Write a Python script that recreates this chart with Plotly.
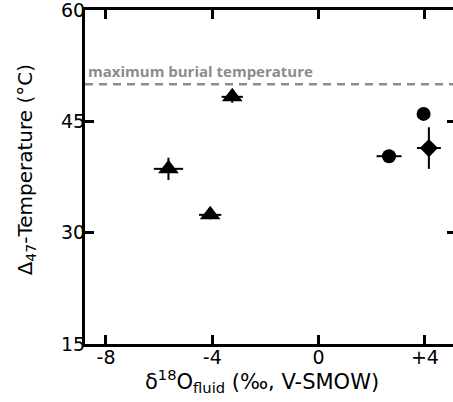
import plotly.graph_objects as go

# Data
tri_x = [-5.65, -4.08, -3.25]
tri_y = [38.6, 32.4, 48.3]
tri_ex = [0.55, 0.42, 0.4]
tri_ey = [1.5, 0.6, 0.8]

circ_x = [2.65, 3.95]
circ_y = [40.3, 46.0]
circ_ex = [0.47, 0.0]
circ_ey = [0.0, 0.0]

dia_x = [4.15]
dia_y = [41.4]
dia_ex = [0.45]
dia_ey = [2.8]

max_burial_temp = 50
x_ticks = [-8, -4, 0, 4]
x_tick_labels = ["-8", "-4", "0", "+4"]
y_ticks = [15, 30, 45, 60]

FONT = "DejaVu Sans, Liberation Sans, sans-serif"
LABEL_FONT = "Open Sans, DejaVu Sans, sans-serif"

def eb(vals):
    return dict(type="data", array=vals, visible=True, color="black", thickness=2, width=0)

fig = go.Figure()
fig.add_trace(go.Scatter(x=tri_x, y=tri_y, mode="markers",
                         marker=dict(symbol="triangle-up", size=18, color="black"),
                         error_x=eb(tri_ex), error_y=eb(tri_ey)))
fig.add_trace(go.Scatter(x=circ_x, y=circ_y, mode="markers",
                         marker=dict(symbol="circle", size=14, color="black"),
                         error_x=eb(circ_ex), error_y=eb(circ_ey)))
fig.add_trace(go.Scatter(x=dia_x, y=dia_y, mode="markers",
                         marker=dict(symbol="diamond", size=14, color="black"),
                         error_x=eb(dia_ex), error_y=eb(dia_ey)))

fig.add_shape(type="line", xref="paper", x0=0, x1=1, yref="y",
              y0=max_burial_temp, y1=max_burial_temp,
              line=dict(color="#8c8c8c", width=2.5, dash="8px,6px"), layer="below")
fig.add_annotation(xref="paper", x=0, yref="y", y=max_burial_temp,
                   xanchor="left", yanchor="bottom", xshift=1, yshift=1,
                   text="<b>maximum burial temperature</b>", showarrow=False,
                   font=dict(family=LABEL_FONT, size=15, color="#8c8c8c"))

# axis titles
fig.add_annotation(xref="paper", yref="paper", x=0.478, y=0, yshift=-37,
                   xanchor="center", yanchor="middle", showarrow=False,
                   text="δ<sup>18</sup>O<sub>fluid</sub> (‰, V-SMOW)",
                   font=dict(family=FONT, size=21, color="black"))
fig.add_annotation(xref="paper", yref="paper", x=0, y=0.52, xshift=-59,
                   xanchor="center", yanchor="middle", showarrow=False, textangle=-90,
                   text="Δ<sub>47</sub>-Temperature (°C)",
                   font=dict(family=FONT, size=20, color="black"))

axis_common = dict(showline=True, linecolor="black", linewidth=3, mirror="allticks",
                   ticks="inside", ticklen=9, tickwidth=2.5, tickcolor="black",
                   showgrid=False, zeroline=False, automargin=False,
                   ticklabeloverflow="allow",
                   tickfont=dict(family=FONT, size=19, color="black"))

fig.update_xaxes(range=[-8.79, 5.17], tickvals=x_ticks, ticktext=x_tick_labels,
                 ticklabelstandoff=-6, **axis_common)
fig.update_yaxes(range=[15, 60], tickvals=y_ticks, ticklabelstandoff=-7, **axis_common)

fig.update_layout(width=456, height=402, showlegend=False, autosize=False,
                  plot_bgcolor="white", paper_bgcolor="white",
                  margin=dict(l=85, r=0, t=10, b=58, pad=0))

fig.write_html("out.html", config={"responsive": False, "displayModeBar": False},
               post_script="document.body.style.margin='0px';document.body.style.overflow='hidden';")
